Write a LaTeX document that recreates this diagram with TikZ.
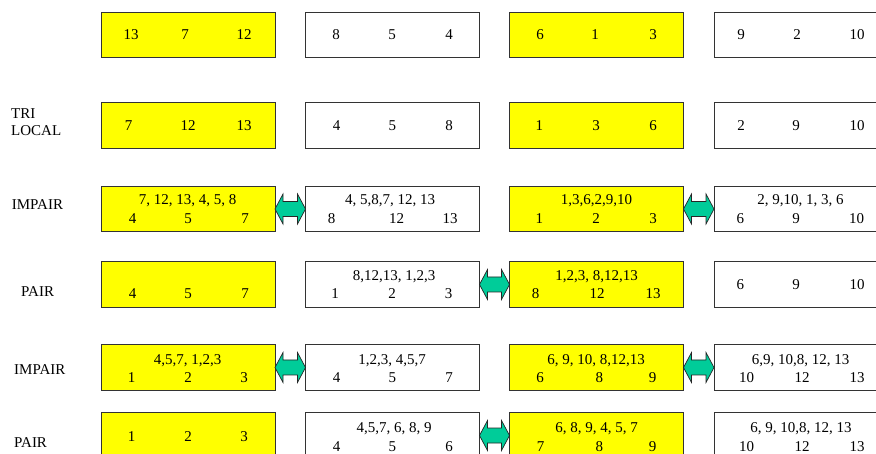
\documentclass[tikz,border=0pt]{standalone}
\usepackage{fontspec}
\setmainfont{Liberation Serif}
\usetikzlibrary{calc}
\definecolor{byellow}{HTML}{FFFF00}
\definecolor{agreen}{HTML}{00CC99}
\definecolor{bline}{HTML}{333333}
\tikzset{
  box/.style={draw=bline, line width=0.9pt, minimum width=174pt, minimum height=45.5pt, inner sep=0pt, outer sep=0pt},
  ybox/.style={box, fill=byellow},
  wbox/.style={box, fill=white},
  num/.style={font=\fontsize{15}{16.5}\selectfont, inner sep=0pt, text height=10pt, text depth=0pt},
  lab/.style={font=\fontsize{15}{16.5}\selectfont, inner sep=0pt, anchor=west, text height=10pt, text depth=0pt},
  arr/.style={fill=agreen, draw=black!85, line width=0.7pt, line join=miter}
}
\newcommand{\xarrow}[2]{%
  \filldraw[arr] (#1.east) -- ($(#1.east)+(8,-15)$) -- ($(#1.east)+(8,-7.5)$)
   -- ($(#2.west)+(-8,-7.5)$) -- ($(#2.west)+(-8,-15)$) -- (#2.west)
   -- ($(#2.west)+(-8,15)$) -- ($(#2.west)+(-8,7.5)$)
   -- ($(#1.east)+(8,7.5)$) -- ($(#1.east)+(8,15)$) -- cycle;}
\begin{document}
\begin{tikzpicture}[x=1pt,y=-1pt]
\useasboundingbox (0,0) rectangle (876,454);
\clip (0,0) rectangle (876,454);
% boxes
\node[ybox] (b11) at (188,35) {};
\node[wbox] (b12) at (392.5,35) {};
\node[ybox] (b13) at (596.5,35) {};
\node[wbox] (b14) at (801,35) {};
\node[ybox] (b21) at (188,125.5) {};
\node[wbox] (b22) at (392.5,125.5) {};
\node[ybox] (b23) at (596.5,125.5) {};
\node[wbox] (b24) at (801,125.5) {};
\node[ybox] (b31) at (188,209) {};
\node[wbox] (b32) at (392.5,209) {};
\node[ybox] (b33) at (596.5,209) {};
\node[wbox] (b34) at (801,209) {};
\node[ybox] (b41) at (188,284.5) {};
\node[wbox] (b42) at (392.5,284.5) {};
\node[ybox] (b43) at (596.5,284.5) {};
\node[wbox] (b44) at (801,284.5) {};
\node[ybox] (b51) at (188,367.5) {};
\node[wbox] (b52) at (392.5,367.5) {};
\node[ybox] (b53) at (596.5,367.5) {};
\node[wbox] (b54) at (801,367.5) {};
\node[ybox] (b61) at (188,435.5) {};
\node[wbox] (b62) at (392.5,435.5) {};
\node[ybox] (b63) at (596.5,435.5) {};
\node[wbox] (b64) at (801,435.5) {};
% arrows
\xarrow{b31}{b32}
\xarrow{b33}{b34}
\xarrow{b42}{b43}
\xarrow{b51}{b52}
\xarrow{b53}{b54}
\xarrow{b62}{b63}
% labels
\node[lab, align=left, text height=, text depth=] (ltri) at (11,122) {TRI\\LOCAL};
\node[lab] (limp1) at (11.7,204.3) {IMPAIR};
\node[lab] (lpair1) at (21,291.7) {PAIR};
\node[lab] (limp2) at (14,369.3) {IMPAIR};
\node[lab] (lpair2) at (14,442.7) {PAIR};
% row 1
\node[num] (n11a) at (131,35) {13};
\node[num] (n11b) at (185,35) {7};
\node[num] (n11c) at (244,35) {12};
\node[num] (n12a) at (336,35) {8};
\node[num] (n12b) at (392,35) {5};
\node[num] (n12c) at (449,35) {4};
\node[num] (n13a) at (540,35) {6};
\node[num] (n13b) at (595,35) {1};
\node[num] (n13c) at (653,35) {3};
\node[num] (n14a) at (741,35) {9};
\node[num] (n14b) at (797,35) {2};
\node[num] (n14c) at (857,35) {10};
% row 2
\node[num] (n21a) at (128.5,125.5) {7};
\node[num] (n21b) at (188,125.5) {12};
\node[num] (n21c) at (244,125.5) {13};
\node[num] (n22a) at (336.7,125.5) {4};
\node[num] (n22b) at (392.3,125.5) {5};
\node[num] (n22c) at (449,125.5) {8};
\node[num] (n23a) at (539.3,125.5) {1};
\node[num] (n23b) at (596,125.5) {3};
\node[num] (n23c) at (653,125.5) {6};
\node[num] (n24a) at (741,125.5) {2};
\node[num] (n24b) at (796,125.5) {9};
\node[num] (n24c) at (857,125.5) {10};
% row 3
\node[num] (s31) at (187.5,200) {7, 12, 13, 4, 5, 8};
\node[num] (n31a) at (132.7,219) {4};
\node[num] (n31b) at (188,219) {5};
\node[num] (n31c) at (245,219) {7};
\node[num] (s32) at (390,200) {4, 5,8,7, 12, 13};
\node[num] (n32a) at (331.7,219) {8};
\node[num] (n32b) at (396.7,219) {12};
\node[num] (n32c) at (450,219) {13};
\node[num] (s33) at (596.5,200) {1,3,6,2,9,10};
\node[num] (n33a) at (539.3,219) {1};
\node[num] (n33b) at (596,219) {2};
\node[num] (n33c) at (653,219) {3};
\node[num] (s34) at (800.5,200) {2, 9,10, 1, 3, 6};
\node[num] (n34a) at (740.3,219) {6};
\node[num] (n34b) at (796,219) {9};
\node[num] (n34c) at (856.7,219) {10};
% row 4
\node[num] (n41a) at (132.7,294) {4};
\node[num] (n41b) at (188,294) {5};
\node[num] (n41c) at (245,294) {7};
\node[num] (s42) at (394,276) {8,12,13, 1,2,3};
\node[num] (n42a) at (335,294) {1};
\node[num] (n42b) at (392,294) {2};
\node[num] (n42c) at (448.7,294) {3};
\node[num] (s43) at (596.5,276) {1,2,3, 8,12,13};
\node[num] (n43a) at (535.7,294) {8};
\node[num] (n43b) at (597,294) {12};
\node[num] (n43c) at (653,294) {13};
\node[num] (n44a) at (740.3,285) {6};
\node[num] (n44b) at (796,285) {9};
\node[num] (n44c) at (857,285) {10};
% row 5
\node[num] (s51) at (187.7,359.3) {4,5,7, 1,2,3};
\node[num] (n51a) at (131.7,377.7) {1};
\node[num] (n51b) at (188,377.7) {2};
\node[num] (n51c) at (244,377.7) {3};
\node[num] (s52) at (392,359.3) {1,2,3, 4,5,7};
\node[num] (n52a) at (336.7,377.7) {4};
\node[num] (n52b) at (392.3,377.7) {5};
\node[num] (n52c) at (449,377.7) {7};
\node[num] (s53) at (596,359.3) {6, 9, 10, 8,12,13};
\node[num] (n53a) at (540,377.7) {6};
\node[num] (n53b) at (599.3,377.7) {8};
\node[num] (n53c) at (652.7,377.7) {9};
\node[num] (s54) at (800.7,359.3) {6,9, 10,8, 12, 13};
\node[num] (n54a) at (746.7,377.7) {10};
\node[num] (n54b) at (802,377.7) {12};
\node[num] (n54c) at (857,377.7) {13};
% row 6
\node[num] (n61a) at (131.7,437) {1};
\node[num] (n61b) at (188,437) {2};
\node[num] (n61c) at (244,437) {3};
\node[num] (s62) at (394,427.3) {4,5,7, 6, 8, 9};
\node[num] (n62a) at (336.7,446.7) {4};
\node[num] (n62b) at (392.3,446.7) {5};
\node[num] (n62c) at (449,446.7) {6};
\node[num] (s63) at (596.7,427.3) {6, 8, 9, 4, 5, 7};
\node[num] (n63a) at (540.7,446.7) {7};
\node[num] (n63b) at (599.3,446.7) {8};
\node[num] (n63c) at (652.7,446.7) {9};
\node[num] (s64) at (801,427.3) {6, 9, 10,8, 12, 13};
\node[num] (n64a) at (746.7,446.7) {10};
\node[num] (n64b) at (802,446.7) {12};
\node[num] (n64c) at (857,446.7) {13};
\end{tikzpicture}
\end{document}
